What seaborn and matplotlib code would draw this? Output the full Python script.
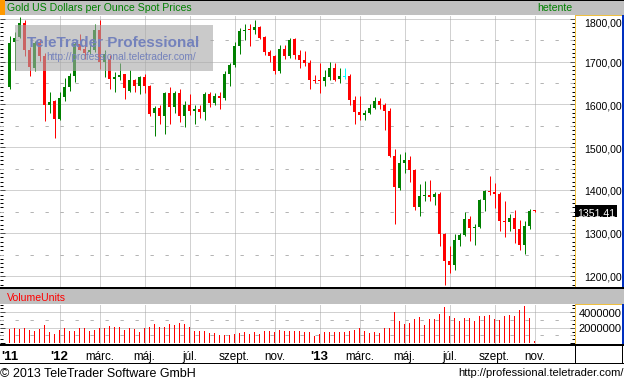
import matplotlib
matplotlib.use("Agg")
import matplotlib.pyplot as plt
import seaborn as sns
import numpy as np
import pandas as pd
from matplotlib.patches import Rectangle
from matplotlib import font_manager as fm
from matplotlib.ticker import MultipleLocator, FixedLocator

# ---------------- data (weekly candles, Oct 2011 - Nov 2013) ----------------
opens = [1641, 1745, 1757, 1790, 1726, 1685, 1745, 1712, 1599, 1607,
         1566, 1618, 1641, 1667, 1740, 1730, 1723, 1726, 1774, 1700,
         1705, 1660, 1665, 1670, 1632, 1658, 1644, 1665, 1644, 1580,
         1591, 1573, 1627, 1595, 1627, 1573, 1599, 1585, 1589, 1583,
         1624, 1603, 1620, 1616, 1671, 1693, 1737, 1772, 1775, 1774,
         1780, 1757, 1723, 1712, 1677, 1730, 1712, 1752, 1715, 1703,
         1697, 1657, 1657, 1654, 1663, 1684, 1659, 1666, 1666, 1610,
         1583, 1576, 1580, 1592, 1608, 1598, 1584, 1480, 1405, 1464,
         1470, 1447, 1362, 1387, 1389, 1385, 1391, 1298, 1236, 1225,
         1284, 1296, 1333, 1313, 1314, 1377, 1398, 1397, 1391, 1329,
         1327, 1335, 1310, 1273, 1317, 1352.5]
highs = [1760, 1768, 1804, 1798, 1734, 1749, 1753, 1720, 1630, 1610,
         1630, 1662, 1673, 1745, 1765, 1751, 1745, 1788, 1796, 1727,
         1716, 1676, 1696, 1671, 1680, 1659, 1667, 1670, 1646, 1597,
         1599, 1628, 1640, 1632, 1636, 1607, 1624, 1599, 1599, 1628,
         1630, 1627, 1628, 1677, 1696, 1745, 1779, 1788, 1788, 1798,
         1782, 1759, 1728, 1715, 1738, 1738, 1755, 1755, 1726, 1725,
         1703, 1668, 1697, 1680, 1699, 1697, 1684, 1685, 1671, 1620,
         1620, 1588, 1601, 1618, 1615, 1603, 1591, 1496, 1485, 1490,
         1480, 1449, 1415, 1422, 1424, 1397, 1395, 1300, 1269, 1298,
         1301, 1350, 1340, 1322, 1380, 1401, 1433, 1418, 1395, 1376,
         1345, 1353, 1331, 1329, 1356, 1354]
lows = [1636, 1681, 1755, 1712, 1667, 1679, 1702, 1562, 1581, 1521,
        1563, 1607, 1632, 1652, 1726, 1706, 1718, 1722, 1683, 1665,
        1635, 1629, 1657, 1612, 1628, 1630, 1624, 1627, 1573, 1527,
        1554, 1530, 1554, 1581, 1558, 1548, 1576, 1554, 1568, 1563,
        1593, 1599, 1589, 1610, 1644, 1687, 1718, 1751, 1737, 1765,
        1753, 1716, 1700, 1672, 1674, 1705, 1709, 1705, 1684, 1689,
        1636, 1649, 1626, 1643, 1658, 1654, 1651, 1660, 1598, 1554,
        1564, 1563, 1577, 1589, 1589, 1541, 1477, 1322, 1401, 1440,
        1420, 1354, 1339, 1374, 1376, 1366, 1269, 1180, 1207, 1215,
        1270, 1294, 1282, 1273, 1312, 1352, 1389, 1358, 1305, 1291,
        1305, 1277, 1261, 1252, 1310, 1349]
closes = [1743, 1756, 1790, 1726, 1687, 1743, 1712, 1599, 1605, 1566,
          1616, 1641, 1667, 1741, 1727, 1720, 1726, 1774, 1700, 1718,
          1659, 1664, 1669, 1638, 1658, 1644, 1665, 1644, 1577, 1591,
          1573, 1627, 1595, 1627, 1573, 1599, 1585, 1589, 1583, 1624,
          1603, 1619, 1616, 1671, 1693, 1737, 1771, 1774, 1773, 1780,
          1755, 1723, 1712, 1677, 1730, 1712, 1750, 1715, 1703, 1697,
          1657, 1654, 1654, 1663, 1684, 1658, 1666, 1666, 1610, 1583,
          1576, 1581, 1592, 1608, 1598, 1584, 1479, 1407, 1463, 1471,
          1447, 1362, 1387, 1389, 1384, 1391, 1298, 1236, 1225, 1284,
          1296, 1333, 1313, 1315, 1377, 1398, 1396, 1391, 1329, 1327,
          1336, 1310, 1273, 1317, 1352, 1351.41]
volumes_m = [1.85, 2.02, 1.85, 1.94, 1.72, 1.63, 1.85, 2.37, 1.42, 1.20,
             1.72, 1.94, 1.59, 1.59, 2.02, 2.02, 1.59, 1.72, 2.02, 2.02,
             2.24, 2.15, 2.15, 1.72, 1.94, 1.81, 1.38, 2.02, 2.15, 2.45,
             2.15, 2.15, 2.49, 2.37, 2.67, 2.45, 2.15, 1.59, 1.51, 1.51,
             1.29, 1.29, 1.08, 1.08, 1.08, 1.20, 1.29, 1.38, 1.20, 1.38,
             1.20, 1.51, 1.59, 1.38, 1.72, 1.51, 1.63, 1.59, 1.51, 1.38,
             1.38, 0.86, 1.20, 1.38, 1.42, 1.38, 1.38, 1.42, 1.59, 1.72,
             1.94, 1.59, 1.29, 1.42, 1.29, 1.94, 2.02, 4.09, 2.88, 2.45,
             2.67, 3.14, 3.44, 2.37, 3.14, 3.14, 3.78, 4.73, 3.53, 3.31,
             2.88, 3.31, 3.23, 2.92, 3.53, 3.53, 3.66, 3.14, 3.01, 3.53,
             3.66, 3.57, 4.30, 4.82, 3.23, 0.30]
axis_labels = ["'11", "'12", "márc.", "máj.", "júl.", "szept.", "nov.",
               "'13", "márc.", "máj.", "júl.", "szept.", "nov."]
label_weeks = [0, 10, 18, 27, 36, 45, 53, 62, 70, 79, 88, 97, 105]
price_ticks = [1200, 1300, 1400, 1500, 1600, 1700, 1800]
price_tick_labels = ["1200,00", "1300,00", "1400,00", "1500,00", "1600,00", "1700,00", "1800,00"]
vol_ticks = [2000000, 4000000]
vol_tick_labels = ["2000000", "4000000"]
last_price_label = "1351,41"

# ---------------- style / fonts ----------------
sns.set_style("white")
avail = {f.name for f in fm.fontManager.ttflist}
REG = 'Liberation Sans' if 'Liberation Sans' in avail else 'DejaVu Sans'
NAR = 'Liberation Sans Narrow' if 'Liberation Sans Narrow' in avail else None
plt.rcParams['font.family'] = [REG, 'DejaVu Sans']
NFAM = NAR if NAR else REG
NSIZE_T = 9.2 if NAR else 7.6     # title bar fonts
NSIZE_P = 9.3 if NAR else 7.6     # price labels

GREEN = '#008000'
RED = '#ff0000'
CYAN = '#00ffff'
GRID = '#a4a4a4'
GRAYBAR = '#c0c0c0'
YEL = '#f0c040'
BLUE = '#0030c0'

W, H = 624, 382
fig = plt.figure(figsize=(W / 100, H / 100), dpi=100, facecolor='white')


def fx(x):
    return x / W


def fy(y):
    return 1 - y / H


def rect(x0, y0, x1, y1, color, z=5, alpha=1.0):
    r = Rectangle((fx(x0), fy(y1)), (x1 - x0) / W, (y1 - y0) / H,
                  transform=fig.transFigure, facecolor=color, edgecolor='none',
                  linewidth=0, zorder=z, alpha=alpha)
    fig.add_artist(r)


def T(x, y, s, size, color='black', ha='left', weight='normal', family=None, z=12):
    fig.text(fx(x), fy(y), s, fontsize=size, color=color, ha=ha, va='baseline',
             fontweight=weight, family=family or REG, zorder=z)


def ix(px):
    return (px - 9.5) / 5.0


def price_at(y):
    return 1800 - (y - 18.7) / 0.4288


def vol_at(y):
    return (343.1 - y) / 7.7 * 1e6


LW = 0.72
DOT = (0, (1, 1))
DASH = (0, (3.3, 11.7))

# ---------------- price panel ----------------
P_TOP, P_BOT = 15, 287.3
ax = fig.add_axes([0, fy(P_BOT), 575 / W, (P_BOT - P_TOP) / H])
ax.set_facecolor('white')
ax.set_xlim(ix(0), ix(575))
ax.set_ylim(price_at(P_BOT), price_at(P_TOP))
for p in price_ticks:
    ax.axhline(p, color=GRID, lw=LW, ls=DOT, zorder=1)
for p in range(1250, 1751, 100):
    ax.axhline(p, color='#b4b4b4', lw=LW, ls=DASH, zorder=1)
for w in label_weeks[1:]:
    ax.axvline(w, color=GRID, lw=LW, ls=DOT, zorder=1)

o = np.array(opens, float)
h = np.array(highs, float)
l = np.array(lows, float)
c = np.array(closes, float)
idx = np.arange(len(o))
cols = np.where(c > o, GREEN, np.where(c < o, RED, CYAN))
ax.vlines(idx, l, h, colors=cols, lw=LW, zorder=3)
mid = (o + c) / 2
bh = np.maximum(np.abs(c - o), 2.4)
ax.bar(idx, bh, bottom=mid - bh / 2, width=0.6, color=cols, linewidth=0, zorder=4)

ax.yaxis.set_major_locator(FixedLocator(price_ticks))
ax.yaxis.set_minor_locator(MultipleLocator(10))
ax.tick_params(axis='y', which='major', direction='in', length=3.6, width=LW, color='black',
               left=True, right=True, labelleft=False, labelright=False)
ax.tick_params(axis='y', which='minor', direction='in', length=1.9, width=LW, color='black',
               left=True, right=True)
ax.tick_params(axis='x', which='both', bottom=False, top=False, labelbottom=False)
for s in ax.spines.values():
    s.set_visible(False)

# ---------------- volume panel ----------------
V_TOP, V_BOT = 304, 344
axv = fig.add_axes([0, fy(V_BOT), 575 / W, (V_BOT - V_TOP) / H])
axv.set_facecolor('white')
vol_df = pd.DataFrame({'week': idx, 'volume': np.array(volumes_m) * 1e6})
sns.barplot(data=vol_df, x='week', y='volume', native_scale=True, width=0.2,
            color=RED, saturation=1, errorbar=None, edgecolor='none', linewidth=0,
            ax=axv, zorder=3)
axv.set_xlim(ix(0), ix(575))
axv.set_ylim(vol_at(V_BOT), vol_at(V_TOP))
axv.set_xlabel('')
axv.set_ylabel('')
for v in vol_ticks:
    axv.axhline(v, color=GRID, lw=LW, ls=DOT, zorder=1)
for v in (1e6, 3e6):
    axv.axhline(v, color='#b4b4b4', lw=LW, ls=DASH, zorder=1)
for w in label_weeks[1:]:
    axv.axvline(w, color=GRID, lw=LW, ls=DOT, zorder=1)
axv.yaxis.set_major_locator(FixedLocator([0] + vol_ticks))
axv.yaxis.set_minor_locator(MultipleLocator(500000))
axv.tick_params(axis='y', which='major', direction='in', length=3.6, width=LW, color='black',
                left=True, right=True, labelleft=False, labelright=False)
axv.tick_params(axis='y', which='minor', direction='in', length=1.9, width=LW, color='black',
                left=True, right=True)
axv.tick_params(axis='x', which='both', bottom=False, top=False, labelbottom=False)
for s in axv.spines.values():
    s.set_visible(False)

# ---------------- frame pieces ----------------
rect(0, 0, 624, 1, 'black')
rect(5, 1, 624, 15, GRAYBAR)
rect(0, 0, 5, 15, '#ff9900')
# price label box
rect(575, 15, 576, P_BOT, YEL)
rect(575, 15, 622, 16, YEL)
rect(622, 15, 623.5, P_BOT, BLUE)
rect(0, P_BOT, 624, 289.3, 'black')
rect(0, 289.3, 624, V_TOP, GRAYBAR)
# volume label box
rect(575, V_TOP, 576, 343.5, YEL)
rect(575, V_TOP, 622, V_TOP + 1, YEL)
rect(622, V_TOP, 623.5, 343.5, BLUE)
rect(0, 343.5, 624, 345.5, 'black')
rect(575, 345.5, 576, 363, 'black')
rect(622.3, 345.5, 623.3, 363, 'black')
rect(0, 362.5, 624, 363.5, 'black')

# watermark
rect(15, 25, 212.7, 70.7, '#a8a8a8', z=10, alpha=0.6)
T(26.7, 46.7, "TeleTrader Professional", 11, color='#7482bc', weight='bold', z=11)
T(46.7, 59.7, "http://professional.teletrader.com/", 7.3, color='#7482bc', z=11)

# title bar texts
T(7.3, 11.3, "Gold US Dollars per Ounce Spot Prices", NSIZE_T, color=GREEN, family=NFAM)
T(572.7, 11.3, "hetente", NSIZE_T, color=GREEN, ha='right', family=NFAM)
T(7, 300.7, "VolumeUnits", NSIZE_T, color=RED, family=NFAM)

# price axis labels
for p, s in zip(price_ticks, price_tick_labels):
    yb = 18.7 + (1800 - p) * 0.4288 + 4.7
    if p == 1800:
        yb = 26.7
    T(621.5, yb, s, NSIZE_P, ha='right', family=NFAM)
rect(575.3, 205, 616.7, 217.3, 'black', z=11)
T(615.5, 216, last_price_label, NSIZE_P, color='white', ha='right', family=NFAM, z=13)

# volume axis labels
for v, s in zip(vol_ticks, vol_tick_labels):
    yb = 343.1 - v / 1e6 * 7.7 + 4.4
    T(621.5, yb, s, 8.0, ha='right')

# time axis labels
for w, s in zip(label_weeks, axis_labels):
    xc = 9.5 + 5 * w
    bold = s.startswith("'")
    if w == 0:
        T(1.5, 360, s, 9.5, ha='left', weight='bold')
    else:
        T(xc, 360, s, 9.5 if bold else 8.4, ha='center', weight='bold' if bold else 'normal')

# footer
T(0.5, 376.7, "© 2013 TeleTrader Software GmbH", 9.0)
T(623.3, 376.0, "http://professional.teletrader.com/", 8.0, ha='right')

fig.savefig("out.png", dpi=100, facecolor='white')
